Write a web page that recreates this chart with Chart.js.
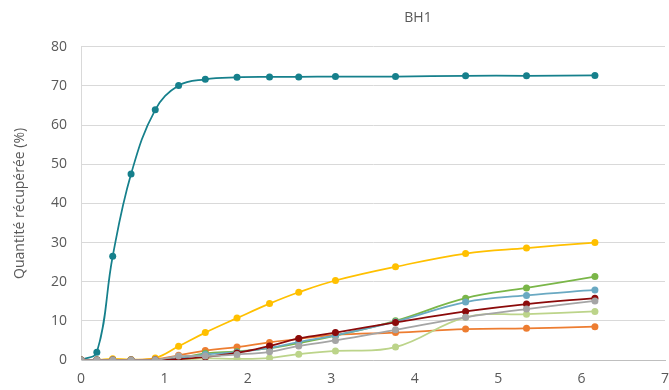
<!DOCTYPE html>
<html>
<head>
<meta charset="utf-8">
<script src="https://cdn.jsdelivr.net/npm/chart.js@4.4.1/dist/chart.umd.min.js"></script>
<style>
  html, body { margin: 0; padding: 0; background: #ffffff; }
  #wrap { width: 669px; height: 390px; position: relative; }
</style>
</head>
<body>
<div id="wrap"><canvas id="c" width="669" height="390"></canvas></div>
<script>
// Sampling times (x) shared by every series
const times = [0, 0.19, 0.38, 0.6, 0.89, 1.17, 1.49, 1.87, 2.26, 2.61, 3.05, 3.77, 4.61, 5.34, 6.16];

// Recovered quantity (%) per series
const serieTeal       = [0, 2.0, 26.5, 47.5, 63.9, 70.1, 71.7, 72.2, 72.3, 72.3, 72.4, 72.4, 72.6, 72.6, 72.7];
const serieJaune      = [0, 0, 0.3, 0.1, 0.5, 3.5, 7.0, 10.7, 14.4, 17.3, 20.3, 23.8, 27.2, 28.6, 30.0];
const serieOrange     = [0, 0, 0, 0, 0.2, 1.2, 2.4, 3.3, 4.5, 5.4, 6.4, 7.0, 7.9, 8.1, 8.5];
const serieVert       = [0, 0, 0, 0, 0, 0.5, 1.7, 2.2, 3.0, 4.3, 6.2, 10.0, 15.8, 18.4, 21.3];
const serieBleu       = [0, 0, 0, 0, 0, 0.4, 1.4, 2.0, 3.1, 4.6, 6.3, 9.8, 14.8, 16.5, 17.9];
const serieVertClair  = [0, 0, 0, 0, 0, 0, 0.4, 0.3, 0.5, 1.5, 2.3, 3.3, 10.9, 11.7, 12.4];
const serieBordeaux   = [0, 0, 0, 0, 0, 0.2, 0.8, 1.8, 3.6, 5.5, 7.0, 9.6, 12.4, 14.3, 15.8];
const serieGris       = [0, 0, 0, 0, 0, 1.0, 1.0, 1.4, 2.1, 3.6, 5.0, 7.7, 10.9, 13.0, 15.1];

// Axis ticks
const xTicks = [0, 1, 2, 3, 4, 5, 6, 7];
const yTicks = [0, 10, 20, 30, 40, 50, 60, 70, 80];

const toPoints = vals => vals.map((v, i) => ({ x: times[i], y: v }));

function serie(vals, color, order) {
  return {
    data: toPoints(vals),
    borderColor: color,
    backgroundColor: color,
    pointBackgroundColor: color,
    pointBorderColor: color,
    pointRadius: 3.5,
    pointBorderWidth: 0,
    borderWidth: 1.75,
    tension: 0.4,
    order: order,
    fill: false
  };
}

const textColor = '#595959';
const fontFamily = "'Open Sans', 'DejaVu Sans', sans-serif";

// Places the chart title over the right part of the plot
const titleShift = {
  id: 'titleShift',
  afterLayout(chart) {
    const t = chart.titleBlock;
    if (t) { t.left = 2 * 418 - t.right; }
  }
};

new Chart(document.getElementById('c'), {
  type: 'line',
  data: {
    datasets: [
      serie(serieTeal, '#16808C', 7),
      serie(serieJaune, '#FFC000', 6),
      serie(serieOrange, '#ED7D31', 5),
      serie(serieVert, '#7AB648', 4),
      serie(serieBleu, '#6AA9C2', 3),
      serie(serieVertClair, '#BCD48A', 2),
      serie(serieBordeaux, '#8B0A0A', 1),
      serie(serieGris, '#A5A5A5', 0)
    ]
  },
  options: {
    responsive: false,
    animation: false,
    layout: { padding: { left: 0, right: 0, top: 0, bottom: 0 } },
    plugins: {
      legend: { display: false },
      tooltip: { enabled: false },
      title: {
        display: true,
        text: 'BH1',
        color: textColor,
        font: { family: fontFamily, size: 14, weight: 'normal' },
        padding: { top: 10, bottom: 20 }
      }
    },
    scales: {
      x: {
        type: 'linear',
        min: 0,
        max: 7,
        afterBuildTicks(scale) { scale.ticks = xTicks.map(v => ({ value: v })); },
        afterFit(scale) { scale.height = 30; scale.paddingRight = 4; },
        ticks: {
          color: textColor,
          font: { family: fontFamily, size: 14 },
          padding: 11,
          maxRotation: 0
        },
        grid: { display: false, drawTicks: false },
        border: { display: true, color: '#BFBFBF', width: 1 }
      },
      y: {
        type: 'linear',
        min: 0,
        max: 80,
        afterBuildTicks(scale) { scale.ticks = yTicks.map(v => ({ value: v })); },
        afterFit(scale) { scale.width = 81; },
        ticks: {
          color: textColor,
          font: { family: fontFamily, size: 14 },
          padding: 14
        },
        grid: { color: '#D9D9D9', drawTicks: false },
        border: { display: true, color: '#D9D9D9', width: 1 },
        title: {
          display: true,
          text: 'Quantité récupérée (%)',
          color: textColor,
          font: { family: fontFamily, size: 14, weight: 'normal' },
          padding: { top: 12, bottom: 0 }
        }
      }
    }
  },
  plugins: [titleShift]
});
</script>
</body>
</html>
